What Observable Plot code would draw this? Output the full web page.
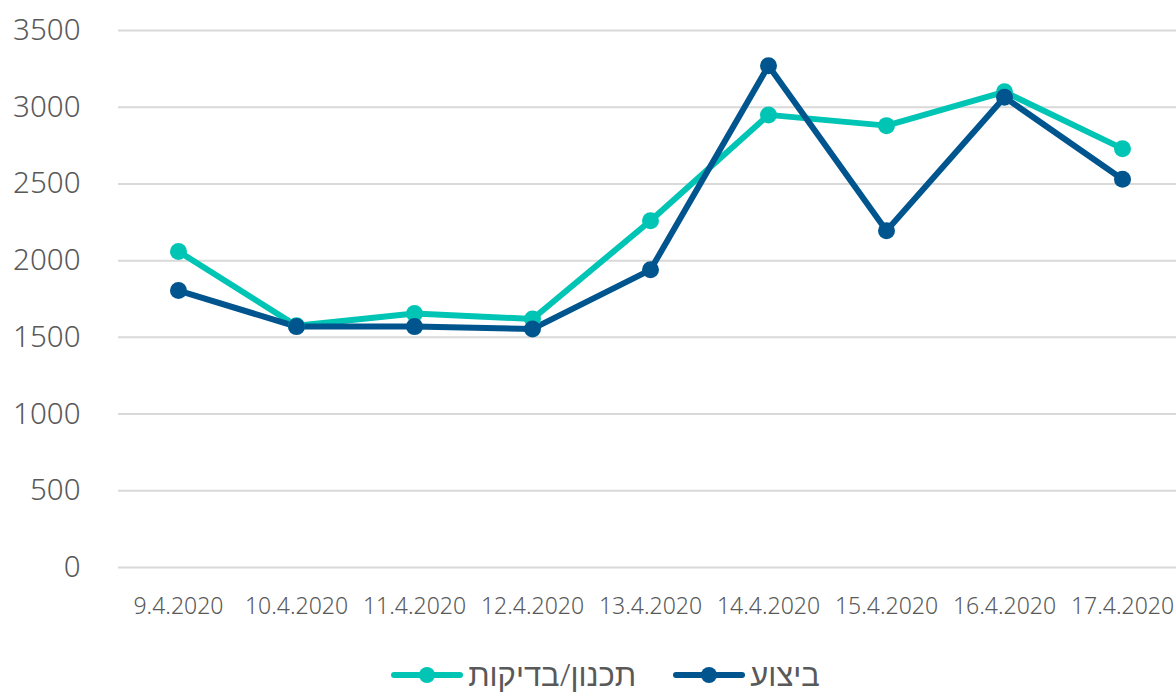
<!DOCTYPE html>
<html>
<head>
<meta charset="utf-8">
<script src="https://cdn.jsdelivr.net/npm/d3@7"></script>
<script src="https://cdn.jsdelivr.net/npm/@observablehq/plot@0.6"></script>
<style>
  body { margin: 0; background: #fff; font-family: "Noto Sans", sans-serif; }
  #chart svg { display: block; }
  #chart svg text { font-weight: 300; }
  #legend { display: flex; justify-content: center; align-items: center; gap: 36px; height: 63px; box-sizing: border-box; padding-top: 26px; padding-left: 34px; font-size: 31px; font-weight: 300; color: #595959; direction: ltr; }
  .item { display: flex; align-items: center; gap: 4px; }
  .item span { line-height: 1; }
</style>
</head>
<body>
<div id="chart"></div>
<div id="legend"></div>
<script>
const dates = ["9.4.2020","10.4.2020","11.4.2020","12.4.2020","13.4.2020","14.4.2020","15.4.2020","16.4.2020","17.4.2020"];
const planning = [2060, 1575, 1655, 1620, 2260, 2950, 2880, 3100, 2730];
const execution = [1805, 1570, 1570, 1555, 1940, 3270, 2195, 3065, 2530];
const seriesNames = ["תכנון/בדיקות", "ביצוע"];
const seriesColors = ["#00C5B4", "#00558E"];
const yTicks = [0, 500, 1000, 1500, 2000, 2500, 3000, 3500];

const data = [];
[planning, execution].forEach((vals, si) => {
  vals.forEach((v, i) => data.push({date: dates[i], value: v, series: seriesNames[si]}));
});

const chart = Plot.plot({
  width: 1176,
  height: 630,
  marginTop: 30,
  marginBottom: 63,
  marginLeft: 118,
  marginRight: 0,
  style: {fontFamily: "Noto Sans, sans-serif", color: "#595959", background: "#fff"},
  x: {type: "point", domain: dates, range: [178, 1122], padding: 0, label: null},
  y: {domain: [0, 3500], label: null},
  color: {domain: seriesNames, range: seriesColors},
  marks: [
    Plot.ruleY(yTicks, {stroke: "#d9d9d9", strokeWidth: 2}),
    Plot.axisY({ticks: yTicks, tickFormat: "d", tickSize: 0, tickPadding: 38, fontSize: 29.5, label: null, fill: "#595959"}),
    Plot.axisX({tickSize: 0, tickPadding: 30, fontSize: 23, label: null, fill: "#595959"}),
    Plot.line(data, {x: "date", y: "value", stroke: "series", strokeWidth: 6, z: "series"}),
    Plot.dot(data, {x: "date", y: "value", fill: "series", r: 8.5})
  ]
});
document.getElementById("chart").appendChild(chart);

const legend = document.getElementById("legend");
seriesNames.forEach((name, i) => {
  const item = document.createElement("div");
  item.className = "item";
  item.innerHTML = `<svg width="74" height="20"><line x1="4" y1="10" x2="70" y2="10" stroke="${seriesColors[i]}" stroke-width="6" stroke-linecap="round"/><circle cx="37" cy="10" r="8" fill="${seriesColors[i]}"/></svg><span dir="rtl">${name}</span>`;
  legend.appendChild(item);
});
</script>
</body>
</html>
